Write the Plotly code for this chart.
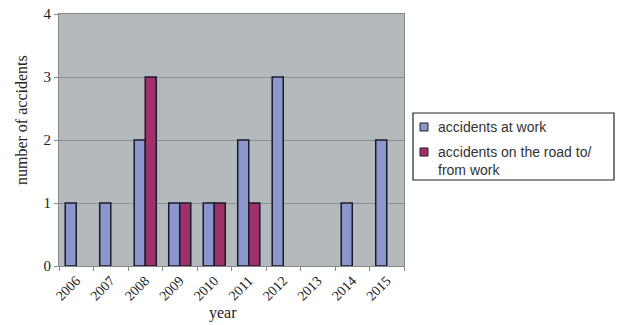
import plotly.graph_objects as go

years = ["2006", "2007", "2008", "2009", "2010", "2011", "2012", "2013", "2014", "2015"]
at_work = [1, 1, 2, 1, 1, 2, 3, 0, 1, 2]
on_road = [0, 0, 3, 1, 1, 1, 0, 0, 0, 0]
y_ticks = [0, 1, 2, 3, 4]
series_names = ["accidents at work", "accidents on the road to/<br>from work"]
colors = ["#8a96cc", "#a0306a"]

edge = "#1a1a2a"
fig = go.Figure()
for vals, name, col in zip([at_work, on_road], series_names, colors):
    fig.add_trace(go.Bar(x=years, y=[v if v else None for v in vals], name=name,
                         marker=dict(color=col, line=dict(color=edge, width=1.5)),
                         showlegend=False))

# plot area in pixels: x 59..404, y 14..266
L, R, T, B = 59, 404, 14, 266
def px(x):
    return (x - L) / (R - L)
def py(y):
    return (B - y) / (B - T)

shapes = [dict(type="rect", xref="paper", yref="paper",
               x0=px(413), x1=px(614), y0=py(180), y1=py(113),
               line=dict(color="#222", width=1.2), fillcolor="white")]
sw = [(123, 131), (148, 156)]
for (a, b), col in zip(sw, colors):
    shapes.append(dict(type="rect", xref="paper", yref="paper",
                       x0=px(420), x1=px(428), y0=py(b), y1=py(a),
                       line=dict(color=edge, width=1), fillcolor=col))

sans = "Liberation Sans, Arial, sans-serif"
serif = "Liberation Serif, Times New Roman, serif"
annotations = [
    dict(xref="paper", yref="paper", x=px(436), y=py(127), xanchor="left", yanchor="middle",
         text=series_names[0], showarrow=False, align="left",
         font=dict(family=sans, size=14, color="#333")),
    dict(xref="paper", yref="paper", x=px(436), y=py(161), xanchor="left", yanchor="middle",
         text=series_names[1], showarrow=False, align="left",
         font=dict(family=sans, size=14, color="#333")),
    dict(xref="paper", yref="paper", x=px(22), y=py(120), xanchor="center", yanchor="middle",
         text="number of accidents", textangle=-90, showarrow=False,
         font=dict(family=serif, size=16, color="#222")),
    dict(xref="paper", yref="paper", x=px(223), y=py(313), xanchor="center", yanchor="middle",
         text="year", showarrow=False,
         font=dict(family=serif, size=16, color="#222")),
]

fig.update_layout(
    width=621, height=325,
    margin=dict(l=L, r=621 - R, t=T, b=325 - B),
    paper_bgcolor="white", plot_bgcolor="#b4b9bd",
    barmode="group", bargap=0.36, bargroupgap=0,
    font=dict(family=serif, color="#222"),
    showlegend=False,
    shapes=shapes, annotations=annotations,
    xaxis=dict(tickangle=-45, tickfont=dict(size=14, family=serif),
               ticks="outside", tickson="boundaries", ticklen=4, tickcolor="#888",
               showline=True, linecolor="#888", mirror=True, showgrid=False,
               automargin=False),
    yaxis=dict(range=[0, 4], tickvals=y_ticks, tickfont=dict(size=15, family=serif),
               ticks="outside", ticklen=4, tickcolor="#888",
               showline=True, linecolor="#888", mirror=True,
               showgrid=True, gridcolor="#8a8f92", gridwidth=1, zeroline=False,
               automargin=False),
)
fig.write_html("out.html")
